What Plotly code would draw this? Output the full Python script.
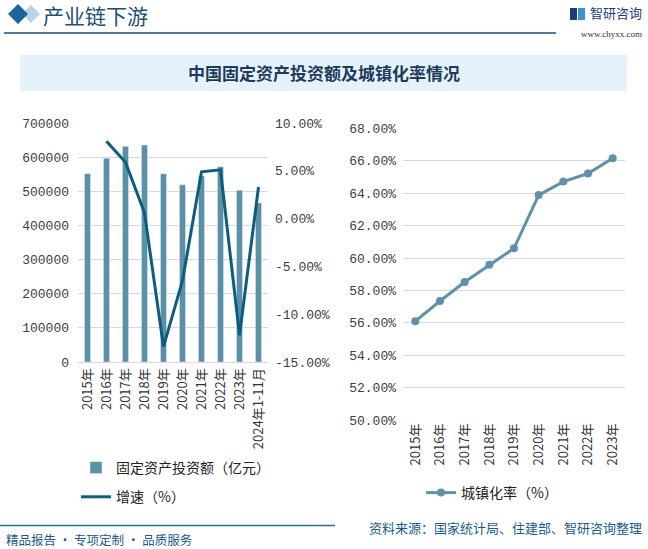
import plotly.graph_objects as go

years_left = ["2015年", "2016年", "2017年", "2018年", "2019年", "2020年", "2021年", "2022年", "2023年", "2024年1-11月"]
investment = [551590, 596501, 631684, 635636, 551478, 518907, 544547, 572138, 503036, 465839]
growth = [None, 8.1, 5.9, 0.6, -13.4, -6.5, 4.9, 5.1, -12.2, 3.3]

years_right = ["2015年", "2016年", "2017年", "2018年", "2019年", "2020年", "2021年", "2022年", "2023年"]
urban = [56.10, 57.35, 58.52, 59.58, 60.60, 63.89, 64.72, 65.22, 66.16]

W, H = 648, 549
def px(x): return x / W
def py(y): return 1 - y / H

BAR = "#5b90a7"
LINE = "#0d5e7c"
URB = "#5f92aa"
NUMF = dict(family="Liberation Mono, Noto Sans CJK SC", size=13, color="#404040")
CJK = "Noto Sans CJK SC"

fig = go.Figure()
fig.add_trace(go.Bar(x=years_left, y=investment, name="固定资产投资额（亿元）", marker_color=BAR,
                     width=0.32, xaxis="x", yaxis="y", legend="legend", legendgroup="a"))
fig.add_trace(go.Scatter(x=years_left, y=growth, name="增速（%）", mode="lines",
                         line=dict(color=LINE, width=3), xaxis="x", yaxis="y2",
                         legend="legend", legendgroup="b"))
fig.add_trace(go.Scatter(x=years_right, y=urban, name="城镇化率（%）", mode="lines+markers",
                         line=dict(color=URB, width=3), marker=dict(size=8, color=URB),
                         xaxis="x3", yaxis="y3", legend="legend2"))

grid = "#d9d9d9"
lt = [-15, -10, -5, 0, 5, 10]
ut = [50, 52, 54, 56, 58, 60, 62, 64, 66, 68]
XTF = dict(family=CJK + ", Liberation Mono", size=13, color="#333")
fig.update_layout(
    width=W, height=H, autosize=False, margin=dict(l=0, r=0, t=0, b=0, pad=0),
    paper_bgcolor="white", plot_bgcolor="rgba(0,0,0,0)", showlegend=True,
    xaxis=dict(domain=[px(78), px(268)], anchor="y", tickangle=-90, showgrid=False, automargin=False,
               tickfont=XTF, showline=True, linecolor=grid, ticks="", range=[-0.5, 9.5]),
    yaxis=dict(domain=[py(362), py(123)], range=[0, 700000], tickvals=[i * 100000 for i in range(8)],
               ticktext=[str(i * 100000) for i in range(8)], showgrid=True, gridcolor=grid, automargin=False,
               tickfont=NUMF, zeroline=False, ticks="", ticklabelstandoff=8),
    yaxis2=dict(overlaying="y", side="right", anchor="x", range=[-15, 10], tickvals=lt, automargin=False,
                ticktext=[("%.2f%%" % v) for v in lt], showgrid=False, zeroline=False,
                tickfont=NUMF, ticklabelstandoff=6),
    xaxis3=dict(domain=[px(403), px(625)], anchor="y3", tickangle=-90, showgrid=False, automargin=False,
                tickfont=XTF, showline=False, ticks="", range=[-0.5, 8.5]),
    yaxis3=dict(domain=[py(420), py(128.5)], anchor="x3", range=[50, 68], tickvals=ut, automargin=False,
                ticktext=[("%.2f%%" % v) for v in ut], showgrid=True, gridcolor=grid,
                zeroline=False, tickfont=NUMF, ticklabelstandoff=6),
    legend=dict(x=px(76), y=py(452), xanchor="left", yanchor="top", bgcolor="rgba(0,0,0,0)",
                font=dict(family=CJK, size=14, color="#222"), tracegroupgap=8, itemwidth=30,
                traceorder="grouped"),
    legend2=dict(x=px(421), y=py(477), xanchor="left", yanchor="top", bgcolor="rgba(0,0,0,0)",
                 font=dict(family=CJK, size=14, color="#222"), itemwidth=30),
)

shapes = [
    dict(type="rect", xref="paper", yref="paper", x0=px(20), x1=px(627), y0=py(91), y1=py(55),
         fillcolor="#e6f2fb", line=dict(width=0), layer="below"),
    dict(type="line", xref="paper", yref="paper", x0=px(4), x1=px(556), y0=py(33), y1=py(33),
         line=dict(color="#1d4e74", width=1.5)),
    dict(type="line", xref="paper", yref="paper", x0=0, x1=px(335), y0=py(525.5), y1=py(525.5),
         line=dict(color="#2a6d9a", width=1.5)),
    dict(type="path", xref="paper", yref="paper",
         path=f"M {px(31)},{py(5)} L {px(40)},{py(14)} L {px(31)},{py(23)} L {px(22)},{py(14)} Z",
         fillcolor="#b9d3ea", line=dict(width=0)),
    dict(type="path", xref="paper", yref="paper",
         path=f"M {px(18)},{py(4)} L {px(28)},{py(14)} L {px(18)},{py(24)} L {px(8)},{py(14)} Z",
         fillcolor="#1c64a0", line=dict(width=0)),
    dict(type="rect", xref="paper", yref="paper", x0=px(570), x1=px(577), y0=py(20), y1=py(8),
         fillcolor="#1c3f7a", line=dict(width=0)),
    dict(type="rect", xref="paper", yref="paper", x0=px(578), x1=px(585), y0=py(20), y1=py(8),
         fillcolor="#3d8fd6", line=dict(width=0)),
]
fig.update_layout(shapes=shapes)

ann = [
    dict(text="产业链下游", x=px(41), y=py(15.5), xanchor="left", yanchor="middle",
         font=dict(family="Noto Sans CJK SC", size=21, color="#1d4e74")),
    dict(text="智研咨询", x=px(644), y=py(13), xanchor="right", yanchor="middle",
         font=dict(family=CJK, size=13, color="#1c3f7a")),
    dict(text="www.chyxx.com", x=px(644), y=py(34), xanchor="right", yanchor="middle",
         font=dict(family="Liberation Serif", size=9, color="#333")),
    dict(text="<b>中国固定资产投资额及城镇化率情况</b>", x=px(324), y=py(73), xanchor="center", yanchor="middle",
         font=dict(family=CJK, size=17, color="#1d3b5c")),
    dict(text="精品报告 · 专项定制 · 品质服务", x=px(4), y=py(539), xanchor="left", yanchor="middle",
         font=dict(family=CJK, size=12.5, color="#1d5a8c")),
    dict(text="资料来源：国家统计局、住建部、智研咨询整理", x=px(644), y=py(527), xanchor="right", yanchor="middle",
         font=dict(family=CJK, size=13, color="#1d5a8c")),
]
for a in ann:
    a.update(xref="paper", yref="paper", showarrow=False)
fig.update_layout(annotations=ann)

fig.write_html("out.html", config={"displayModeBar": False},
               post_script="document.body.style.margin='0px';document.body.style.overflow='hidden';")
